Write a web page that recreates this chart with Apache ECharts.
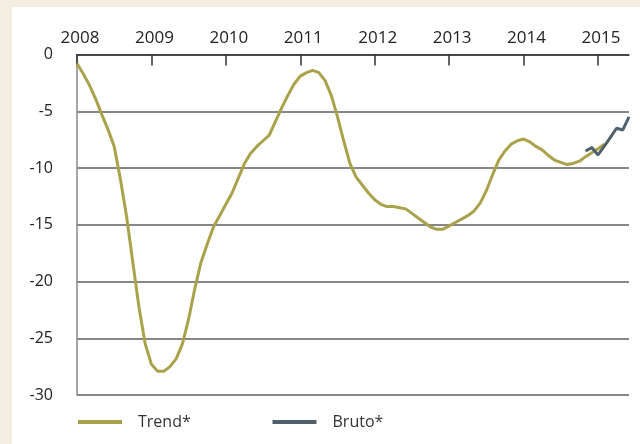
<!DOCTYPE html>
<html>
<head>
<meta charset="utf-8">
<script src="https://cdn.jsdelivr.net/npm/echarts@6/dist/echarts.min.js"></script>
<style>
html,body{margin:0;padding:0;background:#F2EEE2;width:640px;height:444px;overflow:hidden;}
#chart{position:absolute;left:12px;top:7px;width:628px;height:437px;background:#ffffff;}
</style>
</head>
<body>
<div id="chart"></div>
<script>
// Monthly categories Jan 2008 .. Jun 2015
const startYear = 2008;
const monthCount = 90;
const categories = [];
for (let i = 0; i < monthCount; i++) {
  const y = startYear + Math.floor(i / 12);
  const m = (i % 12) + 1;
  categories.push(y + '-' + (m < 10 ? '0' + m : m));
}
const yTicks = [0, -5, -10, -15, -20, -25, -30];

// Trend*: Jan 2008 .. Feb 2015
const trendValues = [
  -0.8, -1.7, -2.7, -3.9, -5.3, -6.6, -8.1, -11.0, -14.3, -18.3, -22.3, -25.5,
  -27.3, -27.9, -27.9, -27.5, -26.8, -25.5, -23.3, -20.6, -18.3, -16.7, -15.2, -14.2,
  -13.2, -12.2, -10.9, -9.6, -8.7, -8.1, -7.6, -7.1, -5.9, -4.7, -3.6, -2.6,
  -1.9, -1.6, -1.4, -1.6, -2.3, -3.6, -5.5, -7.6, -9.6, -10.8, -11.5, -12.2,
  -12.8, -13.2, -13.4, -13.4, -13.5, -13.6, -14.0, -14.4, -14.8, -15.2, -15.4, -15.4,
  -15.1, -14.8, -14.5, -14.2, -13.8, -13.1, -12.0, -10.6, -9.3, -8.5, -7.9, -7.6,
  -7.45, -7.7, -8.1, -8.4, -8.9, -9.3, -9.5, -9.7, -9.6, -9.4, -9.0, -8.65,
  -8.3, -7.9
];
// Bruto*: Nov 2014 .. Jun 2015
const brutoStartIndex = 82;
const brutoValues = [-8.5, -8.2, -8.85, -8.1, -7.3, -6.5, -6.65, -5.5];

const trendData = categories.map((c, i) => i < trendValues.length ? trendValues[i] : null);
const brutoData = categories.map((c, i) => i >= brutoStartIndex ? brutoValues[i - brutoStartIndex] : null);

const font = '"Open Sans", sans-serif';
const chart = echarts.init(document.getElementById('chart'), null, {renderer: 'canvas'});
chart.setOption({
  animation: false,
  textStyle: {fontFamily: font},
  grid: {left: 65, right: 11, top: 47.5, bottom: 49, containLabel: false},
  legend: [
    {
      left: 61, top: 402, padding: 5, icon: 'rect', itemWidth: 44, itemHeight: 4,
      textStyle: {fontFamily: font, fontSize: 16, color: '#333', padding: [0, 0, 0, 11]},
      data: ['Trend*'], selectedMode: false
    },
    {
      left: 255.5, top: 402, padding: 5, icon: 'rect', itemWidth: 44, itemHeight: 4,
      textStyle: {fontFamily: font, fontSize: 16, color: '#333', padding: [0, 0, 0, 11]},
      data: ['Bruto*'], selectedMode: false
    }
  ],
  xAxis: {
    type: 'category',
    position: 'top',
    data: categories,
    boundaryGap: false,
    axisLine: {show: true, onZero: false, lineStyle: {color: '#333', width: 1.5}},
    axisTick: {show: true, inside: true, length: 11, interval: (i) => i % 12 === 0, lineStyle: {color: '#333', width: 1.5}},
    axisLabel: {
      interval: (i) => i % 12 === 0,
      formatter: (v) => v.slice(0, 4),
      fontFamily: font, fontSize: 17, color: '#222', margin: 8, padding: [0, 0, 0, 6]
    },
    splitLine: {show: false}
  },
  yAxis: {
    type: 'value',
    min: yTicks[yTicks.length - 1], max: yTicks[0], interval: 5,
    axisLine: {show: true, lineStyle: {color: '#888', width: 1.5}},
    axisTick: {show: false},
    axisLabel: {fontFamily: font, fontSize: 16, color: '#222', margin: 24},
    splitLine: {show: true, lineStyle: {color: '#5e5e5e', width: 1.5}}
  },
  series: [
    {
      name: 'Trend*', type: 'line', data: trendData, showSymbol: false, symbol: 'none',
      connectNulls: false,
      lineStyle: {color: '#A9A24A', width: 3}, itemStyle: {color: '#A9A24A'}, z: 3
    },
    {
      name: 'Bruto*', type: 'line', data: brutoData, showSymbol: false, symbol: 'none',
      lineStyle: {color: '#50616D', width: 3}, itemStyle: {color: '#50616D'}, z: 4
    }
  ]
});
</script>
</body>
</html>
